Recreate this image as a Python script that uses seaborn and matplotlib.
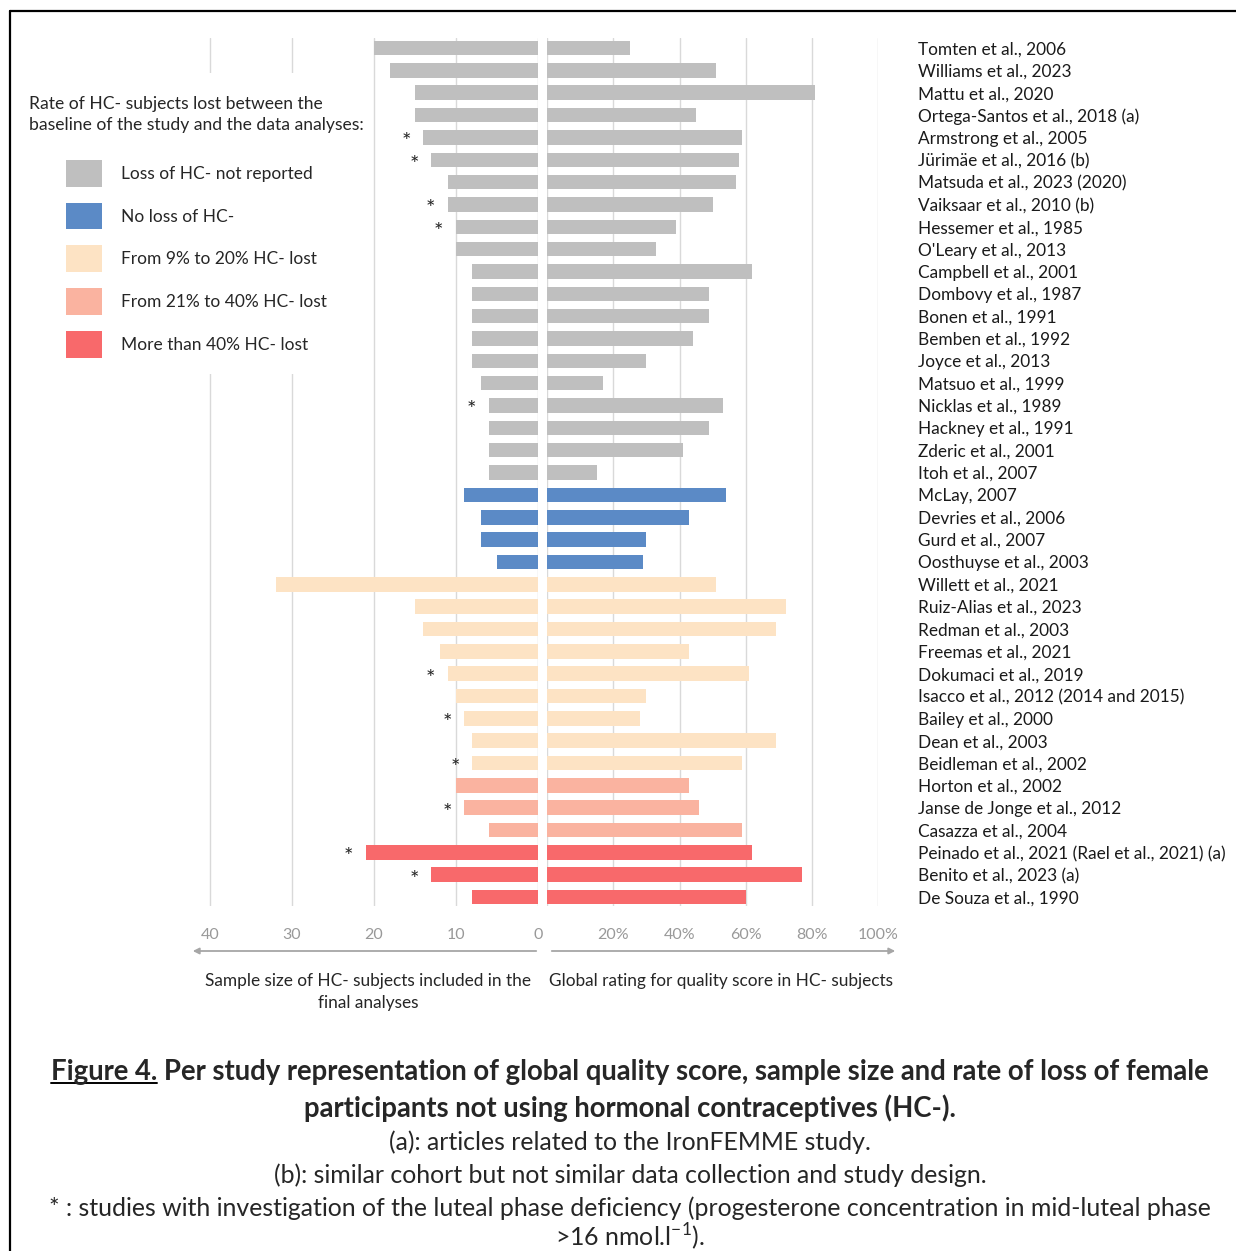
import matplotlib
matplotlib.use("Agg")
import matplotlib.pyplot as plt
from matplotlib.patches import Patch, Rectangle, FancyArrowPatch
from matplotlib.lines import Line2D
import pandas as pd
import seaborn as sns

studies = [
    "Tomten et al., 2006", "Williams et al., 2023", "Mattu et al., 2020",
    "Ortega-Santos et al., 2018 (a)", "Armstrong et al., 2005",
    "Jürimäe et al., 2016 (b)", "Matsuda et al., 2023 (2020)",
    "Vaiksaar et al., 2010 (b)", "Hessemer et al., 1985", "O'Leary et al., 2013",
    "Campbell et al., 2001", "Dombovy et al., 1987", "Bonen et al., 1991",
    "Bemben et al., 1992", "Joyce et al., 2013", "Matsuo et al., 1999",
    "Nicklas et al., 1989", "Hackney et al., 1991", "Zderic et al., 2001",
    "Itoh et al., 2007", "McLay, 2007", "Devries et al., 2006",
    "Gurd et al., 2007", "Oosthuyse et al., 2003", "Willett et al., 2021",
    "Ruiz-Alias et al., 2023", "Redman et al., 2003", "Freemas et al., 2021",
    "Dokumaci et al., 2019", "Isacco et al., 2012 (2014 and 2015)",
    "Bailey et al., 2000", "Dean et al., 2003", "Beidleman et al., 2002",
    "Horton et al., 2002", "Janse de Jonge et al., 2012", "Casazza et al., 2004",
    "Peinado et al., 2021 (Rael et al., 2021) (a)", "Benito et al., 2023 (a)",
    "De Souza et al., 1990",
]
sample_size = [20, 18, 15, 15, 14, 13, 11, 11, 10, 10, 8, 8, 8, 8, 8, 7, 6, 6, 6, 6,
               9, 7, 7, 5, 32, 15, 14, 12, 11, 10, 9, 8, 8, 10, 9, 6, 21, 13, 8]
quality_pct = [25, 51, 81, 45, 59, 58, 57, 50, 39, 33, 62, 49, 49, 44, 30, 17, 53, 49, 41, 15,
               54, 43, 30, 29, 51, 72, 69, 43, 61, 30, 28, 69, 59, 43, 46, 59, 62, 77, 60]
loss_group = (["Loss of HC- not reported"] * 20 + ["No loss of HC-"] * 4
              + ["From 9% to 20% HC- lost"] * 9 + ["From 21% to 40% HC- lost"] * 3
              + ["More than 40% HC- lost"] * 3)
luteal_star = [False, False, False, False, True, True, False, True, True, False,
               False, False, False, False, False, False, True, False, False, False,
               False, False, False, False, False, False, False, False, True, False,
               True, False, True, False, True, False, True, True, False]

group_labels = ["Loss of HC- not reported", "No loss of HC-", "From 9% to 20% HC- lost",
                "From 21% to 40% HC- lost", "More than 40% HC- lost"]
group_colors = ["#BFBFBF", "#5B8AC6", "#FDE3C4", "#FAB3A0", "#F8696B"]

df = pd.DataFrame({"study": studies, "n": sample_size,
                   "quality": quality_pct, "group": loss_group})
palette = dict(zip(group_labels, group_colors))

sns.set_style("white")
plt.rcParams["font.family"] = ["Lato", "DejaVu Sans"]

W, H = 1236, 1251


def fx(px):
    return px / W


def fy(py):
    return 1 - py / H


fig = plt.figure(figsize=(W / 100, H / 100), dpi=100)
top, bottom = 38, 906
ax_l = fig.add_axes([fx(190), fy(bottom), (538 - 190) / W, (bottom - top) / H])
ax_r = fig.add_axes([fx(547), fy(bottom), (878.3 - 547) / W, (bottom - top) / H])

grid_kw = dict(color="#D9D9D9", linewidth=1)
tick_color = "#999999"
bar_kw = dict(hue="group", hue_order=group_labels, palette=palette, dodge=False,
              width=0.65, linewidth=0, saturation=1, legend=False)

# left: sample size (reversed)
sns.barplot(data=df, x="n", y="study", ax=ax_l, **bar_kw)
ax_l.set_xlim(348 / 8.2, 0)
ax_l.set_ylim(38.4, -0.45)
ax_l.set_xticks([0, 10, 20, 30, 40])
ax_l.set_yticks([])
ax_l.grid(axis="x", **grid_kw)
ax_l.set_axisbelow(True)
ax_l.tick_params(axis="x", length=0, pad=16, labelsize=11.5, labelcolor=tick_color)
ax_l.set_ylabel("")
ax_l.set_xlabel("Sample size of HC- subjects included in the\nfinal analyses",
                fontsize=12.4, linespacing=1.45)
ax_l.xaxis.set_label_coords((368 - 190) / 348, -(973 - bottom) / (bottom - top))

for i, star in enumerate(luteal_star):
    if star:
        ax_l.text(sample_size[i] + 2.1, i + 0.22, "*", ha="center", va="center",
                  fontsize=16, color="#262626")

# right: quality score
sns.barplot(data=df, x="quality", y="study", ax=ax_r, **bar_kw)
ax_r.set_xlim(0, 100)
ax_r.set_ylim(38.4, -0.45)
ax_r.set_xticks([0, 20, 40, 60, 80, 100])
ax_r.set_xticklabels(["", "20%", "40%", "60%", "80%", "100%"])
ax_r.grid(axis="x", **grid_kw)
ax_r.set_axisbelow(True)
ax_r.yaxis.tick_right()
ax_r.tick_params(axis="x", length=0, pad=16, labelsize=11.5, labelcolor=tick_color)
ax_r.tick_params(axis="y", length=0, pad=28.5, labelsize=12.4, labelcolor="#1a1a1a")
ax_r.set_ylabel("")
ax_r.set_xlabel("Global rating for quality score in HC- subjects", fontsize=12.4)
ax_r.xaxis.set_label_coords((721 - 547) / 331.3, -(973 - bottom) / (bottom - top))

for ax in (ax_l, ax_r):
    sns.despine(ax=ax, left=True, bottom=True)

# legend, on a white panel hiding the gridlines behind it
ax_l.add_patch(Rectangle((fx(20), fy(374)), fx(365) - fx(20), (374 - 73) / H,
                         transform=fig.transFigure, facecolor="white",
                         edgecolor="none", zorder=3, clip_on=False))
handles = [Patch(facecolor=c, edgecolor="none") for c in group_colors]
leg = ax_l.legend(handles, group_labels,
                  title="Rate of HC- subjects lost between the\nbaseline of the study and the data analyses:",
                  loc="upper left", bbox_to_anchor=(fx(29), fy(96)),
                  bbox_transform=fig.transFigure, frameon=False,
                  fontsize=12.5, title_fontsize=12.6, handlelength=2.1,
                  handleheight=2.0, handletextpad=1.1, labelspacing=0.92,
                  borderpad=0, borderaxespad=0)
leg.get_title().set_linespacing(1.42)
leg._legend_box.sep = 19
leg.set_zorder(5)

# axis arrows
arrow_kw = dict(transform=fig.transFigure, arrowstyle="-|>", mutation_scale=9,
                color="#A6A6A6", linewidth=1.3)
fig.add_artist(FancyArrowPatch((fx(539), fy(951)), (fx(190), fy(951)), **arrow_kw))
fig.add_artist(FancyArrowPatch((fx(549), fy(951)), (fx(898), fy(951)), **arrow_kw))

# frame lines
fig.add_artist(Line2D([fx(10), fx(10)], [fy(11), 0], color="black", linewidth=1.6))
fig.add_artist(Line2D([fx(10), 1], [fy(11), fy(11)], color="black", linewidth=1.6))

# caption
bold_size, reg_size = 19.8, 17.9
cx = fx(630)
cap_bold = dict(ha="center", va="center", fontsize=bold_size, fontweight="bold")
cap_reg = dict(ha="center", va="center", fontsize=reg_size)
t1 = fig.text(cx, fy(1072), "Figure 4. Per study representation of global quality score, "
              "sample size and rate of loss of female", **cap_bold)
fig.text(cx, fy(1108), "participants not using hormonal contraceptives (HC-).", **cap_bold)
fig.text(cx, fy(1142), "(a): articles related to the IronFEMME study.", **cap_reg)
fig.text(cx, fy(1175), "(b): similar cohort but not similar data collection and study design.",
         **cap_reg)
fig.text(cx, fy(1208), "* : studies with investigation of the luteal phase deficiency "
         "(progesterone concentration in mid-luteal phase", **cap_reg)
fig.text(cx, fy(1237), r">16 nmol.l$^{\mathregular{-1}}$).", **cap_reg)

# underline "Figure 4."
fig.canvas.draw()
renderer = fig.canvas.get_renderer()
bb = t1.get_window_extent(renderer)
tmp = fig.text(0, 0, "Figure 4.", fontsize=bold_size, fontweight="bold")
w = tmp.get_window_extent(renderer).width
tmp.remove()
uy = (bb.y0 + 2) / fig.bbox.height
fig.add_artist(Line2D([bb.x0 / fig.bbox.width, (bb.x0 + w) / fig.bbox.width], [uy, uy],
                      color="black", linewidth=1.4))

fig.savefig("out.png", dpi=100)
plt.close(fig)
